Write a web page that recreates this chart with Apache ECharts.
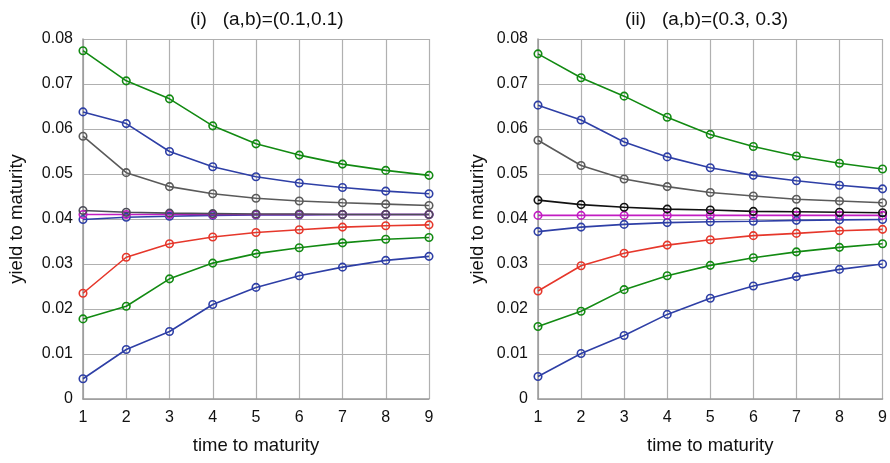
<!DOCTYPE html>
<html>
<head>
<meta charset="utf-8">
<script src="https://cdn.jsdelivr.net/npm/echarts@6/dist/echarts.min.js"></script>
<style>
html,body{margin:0;padding:0;background:#fff;}
#chart{width:890px;height:463px;}
</style>
</head>
<body>
<div id="chart"></div>
<script>
// Data
const maturities = [1, 2, 3, 4, 5, 6, 7, 8, 9];
const yTicks = [0, 0.01, 0.02, 0.03, 0.04, 0.05, 0.06, 0.07, 0.08];

const titleLeft = '(i)   (a,b)=(0.1,0.1)';
const titleRight = '(ii)   (a,b)=(0.3, 0.3)';
const xName = 'time to maturity';
const yName = 'yield to maturity';

// Panel (i)
const leftGreenHigh = [0.0774, 0.0707, 0.0667, 0.0607, 0.0567, 0.0542, 0.0522, 0.0508, 0.0497];
const leftBlueHigh  = [0.0638, 0.0612, 0.0550, 0.0516, 0.0494, 0.0480, 0.0470, 0.0462, 0.0456];
const leftGrayHigh  = [0.0584, 0.0503, 0.0472, 0.0456, 0.0446, 0.0440, 0.0436, 0.0433, 0.0430];
const leftMagenta   = [0.0410, 0.0410, 0.0410, 0.0410, 0.0410, 0.0410, 0.0410, 0.0410, 0.0410];
const leftBlueMid   = [0.0399, 0.0404, 0.0406, 0.0408, 0.0409, 0.0409, 0.0410, 0.0410, 0.0410];
const leftDarkMid   = [0.0419, 0.0415, 0.0413, 0.0412, 0.0411, 0.0411, 0.0410, 0.0410, 0.0410];
const leftRed       = [0.0235, 0.0315, 0.0345, 0.0360, 0.0370, 0.0376, 0.0382, 0.0385, 0.0387];
const leftGreenLow  = [0.0178, 0.0206, 0.0267, 0.0302, 0.0323, 0.0336, 0.0347, 0.0355, 0.0359];
const leftBlueLow   = [0.0045, 0.0110, 0.0150, 0.0210, 0.0248, 0.0274, 0.0293, 0.0308, 0.0317];

// Panel (ii)
const rightGreenHigh = [0.0767, 0.0714, 0.0673, 0.0626, 0.0588, 0.0561, 0.0540, 0.0524, 0.0511];
const rightBlueHigh  = [0.0653, 0.0620, 0.0571, 0.0538, 0.0514, 0.0497, 0.0485, 0.0475, 0.0467];
const rightGrayHigh  = [0.0575, 0.0519, 0.0489, 0.0472, 0.0459, 0.0451, 0.0444, 0.0440, 0.0436];
const rightMagenta   = [0.0408, 0.0408, 0.0408, 0.0408, 0.0408, 0.0408, 0.0408, 0.0408, 0.0408];
const rightBlueMid   = [0.0372, 0.0382, 0.0388, 0.0392, 0.0394, 0.0395, 0.0397, 0.0398, 0.0399];
const rightBlack     = [0.0442, 0.0432, 0.0426, 0.0422, 0.0420, 0.0417, 0.0416, 0.0415, 0.0414];
const rightRed       = [0.0240, 0.0296, 0.0324, 0.0342, 0.0354, 0.0363, 0.0368, 0.0374, 0.0377];
const rightGreenLow  = [0.0161, 0.0195, 0.0243, 0.0274, 0.0297, 0.0314, 0.0327, 0.0337, 0.0345];
const rightBlueLow   = [0.0050, 0.0101, 0.0141, 0.0188, 0.0224, 0.0251, 0.0272, 0.0288, 0.0300];

const GREEN = '#128a12', BLUE = '#2e3fa6', GRAY = '#5a5a5a', MAGENTA = '#c21cc2', RED = '#e6372b', BLACK = '#111111';

const leftSeries = [
  [leftGreenHigh, GREEN], [leftBlueHigh, BLUE], [leftGrayHigh, GRAY],
  [leftBlueMid, BLUE], [leftMagenta, MAGENTA], [leftDarkMid, '#4c4c58'],
  [leftRed, RED], [leftGreenLow, GREEN], [leftBlueLow, BLUE]
];
const rightSeries = [
  [rightGreenHigh, GREEN], [rightBlueHigh, BLUE], [rightGrayHigh, GRAY],
  [rightBlueMid, BLUE], [rightMagenta, MAGENTA], [rightBlack, BLACK],
  [rightRed, RED], [rightGreenLow, GREEN], [rightBlueLow, BLUE]
];

const FONT = 'Liberation Sans, Arial, sans-serif';

function makeSeries(list, idx) {
  return list.map(([vals, c]) => ({
    type: 'line',
    xAxisIndex: idx, yAxisIndex: idx,
    data: maturities.map((m, i) => [m, vals[i]]),
    symbol: 'circle',
    symbolSize: 7.5,
    color: c,
    lineStyle: { color: c, width: 1.6 },
    itemStyle: { color: 'rgba(255,255,255,0)', borderColor: c, borderWidth: 1.6 },
    animation: false
  }));
}

function xAxis(idx) {
  return {
    type: 'value', gridIndex: idx, min: 1, max: 9, interval: 1,
    name: xName, nameLocation: 'middle', nameGap: 37,
    nameTextStyle: { fontSize: 18.5, color: '#111', fontFamily: FONT },
    axisLine: { show: true, lineStyle: { color: '#9a9a9a', width: 1.5 } },
    axisTick: { show: false },
    axisLabel: { fontSize: 16, color: '#111', margin: 11, fontFamily: FONT },
    splitLine: { show: true, lineStyle: { color: '#b0b0b0', width: 1.2 } }
  };
}
function yAxis(idx, gap) {
  return {
    type: 'value', gridIndex: idx, min: 0, max: 0.08, interval: 0.01,
    name: yName, nameLocation: 'middle', nameGap: gap,
    nameTextStyle: { fontSize: 18.5, color: '#111', fontFamily: FONT },
    axisLine: { show: true, lineStyle: { color: '#9a9a9a', width: 1.5 } },
    axisTick: { show: false },
    axisLabel: { fontSize: 16, color: '#111', margin: 10, fontFamily: FONT,
      formatter: v => (v === 0 ? '0' : v.toFixed(2)) },
    splitLine: { show: true, lineStyle: { color: '#b0b0b0', width: 1.2 } }
  };
}

const chart = echarts.init(document.getElementById('chart'));
chart.setOption({
  backgroundColor: '#fff',
  animation: false,
  title: [
    { text: titleLeft, left: 185, top: 5, textStyle: { fontSize: 19, fontWeight: 'normal', color: '#111', fontFamily: FONT } },
    { text: titleRight, left: 620, top: 5, textStyle: { fontSize: 19, fontWeight: 'normal', color: '#111', fontFamily: FONT } }
  ],
  grid: [
    { left: 83, right: 461, top: 39, bottom: 64 },
    { left: 538, right: 7, top: 39, bottom: 64 }
  ],
  xAxis: [xAxis(0), xAxis(1)],
  yAxis: [yAxis(0, 57), yAxis(1, 51)],
  series: makeSeries(leftSeries, 0).concat(makeSeries(rightSeries, 1))
});
</script>
</body>
</html>
